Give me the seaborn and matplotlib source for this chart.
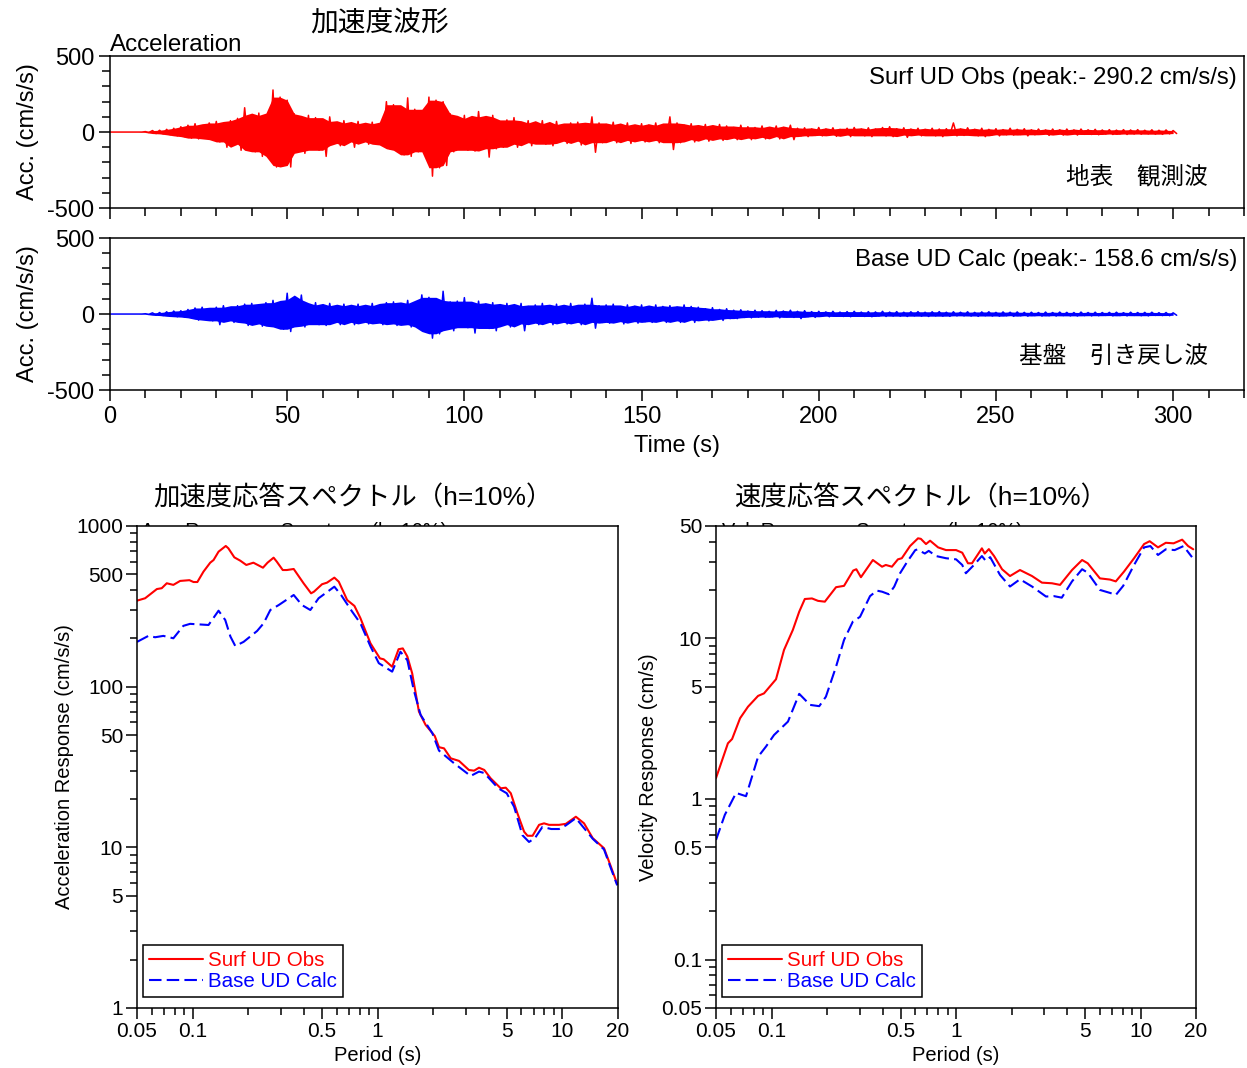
import numpy as np
import pandas as pd
import matplotlib
matplotlib.use("Agg")
import matplotlib.pyplot as plt
import seaborn as sns
from matplotlib.ticker import FixedLocator, FixedFormatter, MultipleLocator, NullFormatter

# ---------------------------------------------------------------- data
# envelope of the acceleration records, sampled every 2 s (0 ... 300 s):
# positive swing at t, negative swing at t + 1 s
time_s = np.arange(0, 302, 2)

surf_up = [
    0, 0, 0, 0, 0, 3, 10, 12, 18, 25,
    35, 45, 55, 40, 60, 70, 55, 75, 90, 160,
    110, 125, 100, 277, 230, 210, 120, 90, 110, 95,
    70, 100, 60, 75, 55, 70, 50, 65, 55, 200,
    180, 120, 225, 150, 120, 230, 210, 200, 120, 90,
    110, 80, 135, 100, 110, 70, 80, 95, 60, 75,
    55, 75, 50, 70, 45, 60, 65, 50, 100, 60,
    50, 65, 45, 60, 40, 55, 45, 60, 45, 100,
    60, 45, 55, 40, 50, 35, 50, 40, 30, 45,
    35, 30, 40, 25, 40, 30, 45, 25, 28, 20,
    30, 20, 28, 18, 25, 30, 20, 28, 20, 30,
    35, 22, 28, 20, 25, 18, 25, 20, 22, 60,
    20, 28, 18, 25, 18, 22, 16, 25, 18, 22,
    15, 20, 14, 20, 15, 20, 14, 20, 15, 18,
    14, 16, 13, 16, 14, 16, 12, 15, 12, 14,
    10,
]
surf_lo = [
    0, 0, 0, 0, 0, -3, -10, -12, -18, -25,
    -30, -40, -45, -35, -50, -65, -100, -55, -120, -80,
    -130, -160, -110, -230, -220, -230, -130, -140, -100, -120,
    -160, -75, -90, -60, -100, -65, -80, -60, -85, -110,
    -120, -150, -160, -130, -120, -290.2, -235, -220, -130, -100,
    -120, -125, -95, -165, -110, -100, -80, -100, -70, -90,
    -65, -80, -90, -60, -75, -55, -85, -60, -133, -70,
    -55, -70, -50, -75, -55, -65, -50, -70, -55, -115,
    -70, -50, -65, -45, -60, -45, -55, -40, -50, -40,
    -50, -35, -45, -30, -45, -30, -50, -25, -30, -22,
    -25, -20, -28, -20, -30, -20, -25, -30, -18, -25,
    -30, -20, -35, -18, -25, -20, -25, -30, -18, -25,
    -22, -18, -25, -30, -18, -25, -18, -20, -16, -25,
    -18, -15, -22, -15, -20, -14, -20, -15, -16, -18,
    -13, -16, -12, -16, -13, -14, -12, -14, -15, -12,
    -10,
]
base_up = [
    0, 0, 0, 0, 0, 2, 8, 10, 15, 20,
    22, 30, 40, 45, 35, 45, 55, 40, 55, 65,
    70, 55, 75, 90, 70, 137, 95, 125, 60, 75,
    55, 70, 50, 65, 55, 65, 50, 70, 55, 75,
    80, 60, 90, 70, 126, 110, 90, 150, 80, 85,
    108, 70, 85, 65, 75, 60, 70, 55, 70, 50,
    60, 70, 50, 65, 55, 70, 50, 65, 104, 55,
    60, 65, 45, 60, 50, 60, 45, 60, 50, 55,
    45, 60, 50, 45, 35, 42, 30, 35, 25, 28,
    20, 25, 22, 18, 24, 20, 25, 18, 22, 16,
    18, 14, 18, 13, 16, 18, 13, 16, 14, 18,
    13, 16, 12, 15, 16, 12, 15, 16, 12, 15,
    12, 15, 11, 14, 15, 11, 14, 12, 14, 11,
    12, 10, 13, 10, 13, 11, 10, 13, 10, 12,
    10, 11, 12, 9, 12, 10, 11, 12, 9, 10,
    8,
]
base_lo = [
    0, 0, 0, 0, 0, -2, -8, -10, -15, -18,
    -20, -25, -40, -35, -45, -70, -45, -55, -45, -75,
    -60, -80, -65, -85, -100, -115, -80, -85, -65, -70,
    -75, -55, -70, -55, -70, -50, -65, -55, -70, -60,
    -75, -65, -85, -70, -115, -158.6, -130, -100, -110, -85,
    -90, -125, -75, -95, -110, -70, -85, -65, -110, -60,
    -70, -55, -70, -55, -65, -50, -70, -55, -93, -55,
    -60, -50, -65, -45, -60, -50, -55, -45, -55, -45,
    -55, -40, -55, -40, -45, -35, -42, -30, -30, -22,
    -25, -20, -22, -18, -25, -18, -22, -30, -17, -22,
    -14, -18, -13, -16, -18, -13, -16, -18, -13, -16,
    -13, -14, -16, -12, -14, -16, -12, -14, -15, -12,
    -12, -13, -15, -11, -13, -14, -11, -15, -11, -14,
    -10, -13, -11, -13, -10, -12, -13, -10, -12, -11,
    -9, -12, -10, -12, -9, -11, -12, -9, -10, -11,
    -8,
]

# response spectra, h = 10 %
sa_obs_T = [0.05, 0.0553, 0.064, 0.068, 0.0724, 0.0786, 0.0855, 0.096, 0.101, 0.106,
            0.1144, 0.1244, 0.1297, 0.138, 0.151, 0.156, 0.168, 0.181, 0.195, 0.213,
            0.240, 0.254, 0.274, 0.285, 0.307, 0.323, 0.352, 0.398, 0.437, 0.453,
            0.501, 0.533, 0.584, 0.617, 0.685, 0.75, 0.808, 0.916, 1.03, 1.08,
            1.20, 1.30, 1.37, 1.45, 1.54, 1.675, 1.82, 2.04, 2.15, 2.29,
            2.49, 2.76, 3.12, 3.33, 3.54, 3.78, 4.09, 4.64, 4.94, 5.26,
            5.71, 6.21, 6.48, 6.9, 7.48, 7.96, 8.47, 9.6, 10.45, 11.83,
            13.1, 14.6, 16.8, 18.3, 19.8]
sa_obs = [343, 355, 405, 410, 440, 430, 455, 460, 448, 448,
          520, 591, 614, 692, 751, 726, 638, 608, 572, 591,
          550, 591, 635, 600, 532, 532, 540, 440, 381, 390,
          434, 444, 477, 450, 346, 318, 267, 186, 150, 148,
          133, 171, 173, 154, 121, 69.9, 57.8, 49.3, 42.0, 41.3,
          35.8, 34.5, 30.3, 30.0, 31.3, 30.3, 26.9, 23.3, 23.5, 21.7,
          16.3, 12.5, 11.8, 11.8, 13.8, 14.1, 13.8, 13.8, 14.0, 15.5,
          14.1, 11.4, 9.87, 7.59, 5.9]

sa_calc_T = [0.05, 0.0576, 0.0626, 0.0694, 0.0786, 0.089, 0.0968, 0.1218, 0.138, 0.15,
             0.16, 0.17, 0.1885, 0.223, 0.242, 0.263, 0.292, 0.352, 0.39, 0.433,
             0.48, 0.584, 0.635, 0.729, 0.808, 0.916, 1.016, 1.20, 1.33, 1.45,
             1.57, 1.71, 1.98, 2.15, 2.59, 3.19, 3.54, 3.78, 4.5, 5.0,
             5.48, 6.08, 6.6, 7.1, 7.8, 8.7, 9.6, 10.45, 11.83, 14.6,
             16.8, 18.3, 19.8]
sa_calc = [190, 207, 203, 207, 200, 239, 246, 242, 297, 260,
           205, 179, 190, 222, 248, 300, 322, 372, 322, 300,
           355, 419, 372, 293, 248, 178, 140, 124, 165, 146,
           95.4, 66.7, 51.3, 40, 33.4, 27.8, 29.6, 29, 23.3, 21.7,
           17.9, 11.9, 10.8, 11.4, 13.4, 13.0, 13.0, 13.7, 15.2, 11.3,
           9.7, 7.4, 5.8]

sv_obs_T = [0.05, 0.058, 0.0611, 0.0675, 0.0745, 0.0845, 0.091, 0.1057, 0.1168, 0.1304,
            0.1412, 0.1514, 0.1656, 0.1785, 0.1944, 0.2236, 0.247, 0.277, 0.288, 0.305,
            0.354, 0.397, 0.416, 0.449, 0.484, 0.508, 0.563, 0.622, 0.644, 0.687,
            0.723, 0.799, 0.882, 1.0, 1.08, 1.16, 1.22, 1.38, 1.43, 1.505,
            1.607, 1.775, 1.96, 2.22, 2.58, 2.92, 3.31, 3.66, 4.25, 4.82,
            5.17, 6.02, 6.83, 7.34, 8.13, 9.22, 10.45, 11.2, 12.43, 13.7,
            15.1, 16.8, 18.1, 19.3]
sv_obs = [1.35, 2.22, 2.36, 3.18, 3.75, 4.38, 4.54, 5.56, 8.46, 11.27,
          14.64, 17.56, 17.7, 17.1, 16.9, 20.8, 21.2, 26.4, 26.9, 24.0,
          30.7, 27.9, 28.6, 27.9, 31.0, 31.5, 37.5, 41.9, 41.6, 38.6,
          40.5, 36.8, 35.4, 35.4, 34.1, 29.3, 29.3, 36.3, 33.7, 35.9,
          32.5, 26.9, 24.4, 26.6, 24.4, 22.2, 22.0, 21.5, 26.6, 30.7,
          29.3, 23.6, 23.2, 22.6, 26.0, 31.5, 38.6, 40.2, 36.8, 39.3,
          39.0, 41.1, 37.5, 35.8]

sv_calc_T = [0.05, 0.0558, 0.0642, 0.0727, 0.0845, 0.0933, 0.1031, 0.1227, 0.1412, 0.1616,
             0.1813, 0.197, 0.2236, 0.247, 0.2757, 0.3016, 0.3417, 0.372, 0.397, 0.432,
             0.462, 0.497, 0.544, 0.601, 0.617, 0.677, 0.711, 0.779, 0.882, 1.0,
             1.08, 1.13, 1.25, 1.38, 1.45, 1.53, 1.73, 1.96, 2.22, 2.58,
             3.07, 3.39, 3.74, 4.25, 4.82, 5.17, 6.02, 7.0, 7.34, 8.05,
             9.22, 10.45, 11.3, 12.43, 13.7, 15.3, 17.1, 18.1, 19.0]
sv_calc = [0.556, 0.796, 1.09, 1.04, 1.83, 2.12, 2.5, 3.03, 4.51, 3.85,
           3.78, 4.33, 6.66, 9.76, 12.7, 13.6, 18.3, 19.8, 19.5, 18.8,
           20.95, 25.4, 30.0, 35.4, 35.7, 33.7, 35.0, 32.5, 31.5, 31.0,
           28.6, 25.4, 28.6, 32.5, 30.3, 32.0, 24.8, 21.0, 23.3, 21.0,
           18.2, 18.3, 17.9, 22.6, 26.9, 25.6, 20.0, 19.0, 18.6, 21.2,
           28.6, 36.8, 37.5, 33.0, 35.8, 35.4, 37.5, 34.4, 32.0]

period_ticks = [0.05, 0.1, 0.5, 1, 5, 10, 20]
period_labels = ["0.05", "0.1", "0.5", "1", "5", "10", "20"]
acc_ticks = [1, 5, 10, 50, 100, 500, 1000]
acc_labels = ["1", "5", "10", "50", "100", "500", "1000"]
vel_ticks = [0.05, 0.1, 0.5, 1, 5, 10, 50]
vel_labels = ["0.05", "0.1", "0.5", "1", "5", "10", "50"]

RED = "#ff0000"
BLUE = "#0000ff"

# ---------------------------------------------------------------- style
sns.set_style("ticks")
plt.rcParams["font.family"] = ["Liberation Sans", "Noto Sans CJK JP", "DejaVu Sans"]
plt.rcParams["axes.unicode_minus"] = False
plt.rcParams["axes.edgecolor"] = "black"
plt.rcParams["axes.linewidth"] = 1.1
plt.rcParams["xtick.color"] = "black"
plt.rcParams["ytick.color"] = "black"
plt.rcParams["xtick.direction"] = "out"
plt.rcParams["ytick.direction"] = "out"
plt.rcParams["text.color"] = "black"
plt.rcParams["axes.labelcolor"] = "black"

fig = plt.figure(figsize=(12.47, 10.68), dpi=100)
ax_s = fig.add_axes([0.0882, 0.8052, 0.9094, 0.1423])
ax_b = fig.add_axes([0.0882, 0.6348, 0.9094, 0.1423])
ax_a = fig.add_axes([0.1099, 0.0562, 0.3857, 0.4513])
ax_v = fig.add_axes([0.5742, 0.0562, 0.3850, 0.4513])


def wave_frame(t, up, lo):
    x = np.column_stack([t, t + 1]).ravel()
    y = np.column_stack([up, lo]).ravel()
    return pd.DataFrame({"t": x, "acc": y})


def core(env):
    # body of the trace: median swing of each sample and its neighbours
    padded = np.pad(env, 1, mode="edge")
    stack = np.vstack([padded[:-2], padded[1:-1], padded[2:]])
    return np.median(stack, axis=0)


for ax, up, lo, col in ((ax_s, surf_up, surf_lo, RED), (ax_b, base_up, base_lo, BLUE)):
    up = np.array(up, float)
    lo = np.array(lo, float)
    ax.fill_between(time_s, core(lo), core(up), color=col, lw=0)
    sns.lineplot(data=wave_frame(time_s, up, lo), x="t", y="acc", ax=ax,
                 color=col, lw=1.1, sort=False, estimator=None)

for ax in (ax_s, ax_b):
    ax.set_xlim(0, 320)
    ax.set_ylim(-500, 500)
    ax.xaxis.set_major_locator(MultipleLocator(50))
    ax.xaxis.set_minor_locator(MultipleLocator(10))
    ax.yaxis.set_major_locator(FixedLocator([-500, 0, 500]))
    ax.yaxis.set_minor_locator(MultipleLocator(100))
    ax.tick_params(which="major", length=8, width=1.1, labelsize=17)
    ax.tick_params(which="minor", length=6, width=1.1)
    ax.set_ylabel("Acc. (cm/s/s)", fontsize=17, labelpad=6)
    ax.set_xlabel("")
    for sp in ax.spines.values():
        sp.set_visible(True)

ax_s.tick_params(axis="x", which="both", labelbottom=False)
ax_b.set_xlabel("Time (s)", fontsize=17, labelpad=5)

ax_s.set_title("Acceleration", loc="left", fontsize=17.4, pad=1)
fig.text(380 / 1247, 1 - 24 / 1068, "加速度波形", fontsize=20,
         ha="center", va="center")

ax_s.text(0.9938, 0.855, f"Surf UD Obs (peak:- {abs(min(surf_lo)):.1f} cm/s/s)",
          transform=ax_s.transAxes, ha="right", va="center", fontsize=17.3)
ax_s.text(0.968, 0.204, "地表　観測波", transform=ax_s.transAxes,
          ha="right", va="center", fontsize=17)
ax_b.text(0.9938, 0.855, f"Base UD Calc (peak:- {abs(min(base_lo)):.1f} cm/s/s)",
          transform=ax_b.transAxes, ha="right", va="center", fontsize=17.3)
ax_b.text(0.968, 0.217, "基盤　引き戻し波", transform=ax_b.transAxes,
          ha="right", va="center", fontsize=17)

# ---------------------------------------------------------------- spectra
DASH = (0, (6, 2.5))
spec_a = [
    (pd.DataFrame({"T": sa_obs_T, "S": sa_obs}), RED, "-", "Surf UD Obs"),
    (pd.DataFrame({"T": sa_calc_T, "S": sa_calc}), BLUE, DASH, "Base UD Calc"),
]
spec_v = [
    (pd.DataFrame({"T": sv_obs_T, "S": sv_obs}), RED, "-", "Surf UD Obs"),
    (pd.DataFrame({"T": sv_calc_T, "S": sv_calc}), BLUE, DASH, "Base UD Calc"),
]

minor_T = [0.06, 0.07, 0.08, 0.09, 0.2, 0.3, 0.4, 0.6, 0.7, 0.8, 0.9,
           2, 3, 4, 6, 7, 8, 9]


def decade_minors(lo, hi, majors):
    vals = []
    for e in range(int(np.floor(np.log10(lo))), int(np.ceil(np.log10(hi))) + 1):
        for m in range(1, 10):
            v = m * 10.0 ** e
            if lo <= v <= hi and not any(np.isclose(v, mj) for mj in majors):
                vals.append(v)
    return vals


for ax, specs, ylim, yt, yl, ylab in (
    (ax_a, spec_a, (1, 1000), acc_ticks, acc_labels, "Acceleration Response (cm/s/s)"),
    (ax_v, spec_v, (0.05, 50), vel_ticks, vel_labels, "Velocity Response (cm/s)"),
):
    for df, col, ls, lab in specs:
        sns.lineplot(data=df, x="T", y="S", ax=ax, color=col, linestyle=ls,
                     lw=1.5, label=lab, sort=False, estimator=None)
    ax.set_xscale("log")
    ax.set_yscale("log")
    ax.set_xlim(0.05, 20)
    ax.set_ylim(*ylim)
    ax.xaxis.set_major_locator(FixedLocator(period_ticks))
    ax.xaxis.set_major_formatter(FixedFormatter(period_labels))
    ax.xaxis.set_minor_locator(FixedLocator(minor_T))
    ax.xaxis.set_minor_formatter(NullFormatter())
    ax.yaxis.set_major_locator(FixedLocator(yt))
    ax.yaxis.set_major_formatter(FixedFormatter(yl))
    ax.yaxis.set_minor_locator(FixedLocator(decade_minors(ylim[0], ylim[1], yt)))
    ax.yaxis.set_minor_formatter(NullFormatter())
    ax.tick_params(which="major", length=8, width=1.1, labelsize=15, pad=2)
    ax.tick_params(which="minor", length=5, width=1.1)
    ax.set_xlabel("Period (s)", fontsize=14.5, labelpad=4)
    ax.set_ylabel(ylab, fontsize=14.5, labelpad=2)
    for sp in ax.spines.values():
        sp.set_visible(True)
    leg = ax.legend(loc="lower left", bbox_to_anchor=(0.0125, 0.0228),
                    borderaxespad=0, fontsize=14.8, frameon=True, fancybox=False,
                    framealpha=1, edgecolor="black", handlelength=2.6,
                    handletextpad=0.25, labelspacing=0.1, borderpad=0.3,
                    labelcolor=[RED, BLUE])
    leg.get_frame().set_linewidth(1.1)

fig.text(141 / 1247, 1 - 537 / 1068, "Acc. Response Spectrum (h=10%)",
         fontsize=14.3, ha="left", va="baseline", zorder=-5)
fig.text(722 / 1247, 1 - 537 / 1068, "Vel. Response Spectrum (h=10%)",
         fontsize=14.3, ha="left", va="baseline", zorder=-5)

fig.text(353 / 1247, 1 - 498 / 1068, "加速度応答スペクトル（h=10%）",
         fontsize=19, ha="center", va="center")
fig.text(921 / 1247, 1 - 498 / 1068, "速度応答スペクトル（h=10%）",
         fontsize=19, ha="center", va="center")

fig.savefig("out.png", dpi=100, facecolor="white")
